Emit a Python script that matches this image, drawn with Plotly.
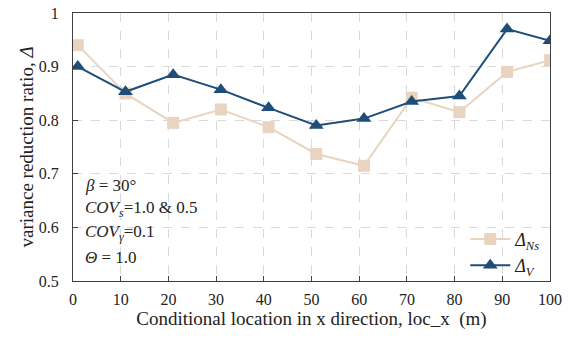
import plotly.graph_objects as go

x_loc = [1, 11, 21, 31, 41, 51, 61, 71, 81, 91, 100]
delta_ns = [0.940, 0.850, 0.795, 0.820, 0.787, 0.737, 0.715, 0.842, 0.815, 0.890, 0.912]
delta_v = [0.900, 0.853, 0.885, 0.857, 0.823, 0.790, 0.803, 0.835, 0.845, 0.970, 0.948]
x_ticks = [0, 10, 20, 30, 40, 50, 60, 70, 80, 90, 100]
y_ticks = [0.5, 0.6, 0.7, 0.8, 0.9, 1.0]
y_tick_text = ["0.5", "0.6", "0.7", "0.8", "0.9", "1"]
param_lines = [
    "<i>β</i> = 30°",
    "<i>COV<sub>s</sub></i>=1.0 &amp; 0.5",
    "<i>COV<sub>γ</sub></i>=0.1",
    "<i>Θ</i> = 1.0",
]

font_family = "Liberation Serif, Times New Roman, serif"
c_ns = "#E8D4BF"
c_v = "#1F4E79"

fig = go.Figure()
fig.add_trace(go.Scatter(
    x=x_loc, y=delta_ns, mode="lines+markers",
    name="<i>Δ</i><sub><i>Ns</i></sub>",
    line=dict(color=c_ns, width=2),
    marker=dict(symbol="square", size=12, color=c_ns),
))
fig.add_trace(go.Scatter(
    x=x_loc, y=delta_v, mode="lines+markers",
    name="<i>Δ</i><sub><i>V</i></sub>",
    line=dict(color=c_v, width=2),
    marker=dict(symbol="triangle-up", size=13, color=c_v),
))

axis_common = dict(
    showline=True, linecolor="#404040", linewidth=1, mirror=True,
    ticks="inside", ticklen=5, tickcolor="#404040",
    showgrid=True, gridcolor="#D9D9D9", griddash="dash", gridwidth=1,
    zeroline=False, automargin=False,
    tickfont=dict(family=font_family, size=16, color="#222"),
)

fig.update_xaxes(
    range=[0, 100], tickvals=x_ticks, ticklabelstandoff=4,
    title=dict(text="Conditional location in x direction, loc_x  (m)",
               font=dict(family=font_family, size=19, color="#222"), standoff=4),
    **axis_common,
)
fig.update_yaxes(
    range=[0.5, 1.0], tickvals=y_ticks, ticktext=y_tick_text, ticklabelstandoff=10,
    title=dict(text="variance reduction ratio, <i>Δ</i>",
               font=dict(family=font_family, size=19, color="#222"), standoff=0),
    **axis_common,
)

line_y = [0.358, 0.268, 0.178, 0.088]
for txt, yy in zip(param_lines, line_y):
    fig.add_annotation(
        xref="paper", yref="paper", x=0.02, y=yy, xanchor="left", yanchor="middle",
        align="left", showarrow=False, text=txt,
        font=dict(family=font_family, size=17, color="#222"),
    )

fig.update_layout(
    width=574, height=338,
    margin=dict(l=73, r=24, t=13, b=57),
    paper_bgcolor="white", plot_bgcolor="white",
    font=dict(family=font_family, size=16, color="#222"),
    legend=dict(x=0.99, y=-0.01, xanchor="right", yanchor="bottom",
                bgcolor="rgba(255,255,255,0)", font=dict(family=font_family, size=18),
                itemwidth=40, tracegroupgap=0),
    showlegend=True,
)

fig.write_html("out.html", config={"displayModeBar": False},
               post_script="document.body.style.margin='0';")
